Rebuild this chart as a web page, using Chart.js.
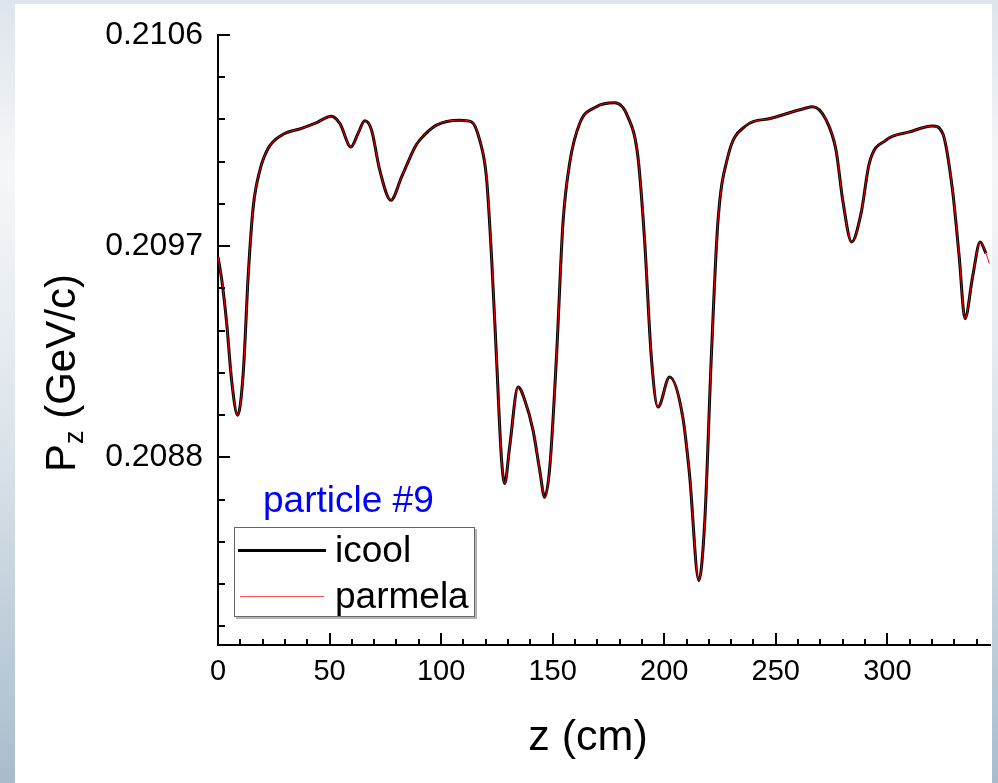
<!DOCTYPE html>
<html>
<head>
<meta charset="utf-8">
<script src="https://cdn.jsdelivr.net/npm/chart.js@4.4.0/dist/chart.umd.min.js"></script>
<style>
  html, body { margin: 0; padding: 0; }
  body {
    width: 998px; height: 783px; overflow: hidden; position: relative;
    background: linear-gradient(to bottom, #dde4eb 0%, #f5f7f9 22%, #dde5eb 55%, #a9bccc 100%);
  }
  #panel { position: absolute; left: 15px; top: 4px; width: 977px; height: 779px; background: #fff; }
  #wrap { position: absolute; left: 0; top: 0; width: 998px; height: 783px; }
</style>
</head>
<body>
<div id="panel"></div>
<div id="wrap"><canvas id="pz" width="998" height="783"></canvas></div>
<script>
// z (cm) and Pz (GeV/c)
const zIcool = [0, 1.7, 3.9, 6.1, 8.8, 11.3, 13.6, 15.8, 18.8, 22.5, 28.5, 37.5, 43.4, 50.9, 54.6, 59.6,
  62.8, 65.8, 68.8, 72.5, 77.5, 82.3, 88.3, 90.4, 97.9, 108.4, 113.6, 117.3, 120.3, 122.6, 124.8,
  127.0, 128.5, 130.7, 134.5, 137.5, 141.2, 144.2, 146.4, 148.7, 151.7, 154.6, 157.6, 162.1, 169.6,
  177.8, 183.7, 188.2, 191.2, 194.2, 197.2, 202.4, 208.3, 211.3, 215.5, 218.1, 221.1, 224.0, 228.5,
  236.0, 247.9, 262.8, 266.6, 272.6, 277.0, 280.0, 284.0, 288.2, 291.9, 299.4, 309.9, 320.3, 324.8,
  329.2, 332.2, 334.8, 338.2, 341.6, 344.2];
const pzIcool = [0.209654, 0.209555, 0.209371, 0.209128, 0.208979, 0.209158, 0.209585, 0.209868,
  0.210024, 0.210117, 0.210173, 0.210202, 0.210223, 0.210254, 0.210223, 0.210123, 0.210181, 0.210234,
  0.210195, 0.210024, 0.209896, 0.209995, 0.210123, 0.210152, 0.210216, 0.210237, 0.210230, 0.210152,
  0.209995, 0.209654, 0.209228, 0.208801, 0.208688, 0.208844, 0.209100, 0.209043, 0.208915, 0.208744,
  0.208630, 0.208758, 0.209228, 0.209797, 0.210053, 0.210223, 0.210294, 0.210311, 0.210251, 0.210081,
  0.209725, 0.209228, 0.209014, 0.209142, 0.208972, 0.208730, 0.208275, 0.208517, 0.209228, 0.209797,
  0.210081, 0.210209, 0.210245, 0.210287, 0.210294, 0.210237, 0.210109, 0.209896, 0.209718, 0.209839,
  0.210053, 0.210152, 0.210187, 0.210212, 0.210181, 0.209939, 0.209654, 0.209391, 0.209569, 0.209718,
  0.209669];
// parmela runs on top of icool and goes a little further
const zParmela = zIcool.concat([345.7]);
const pzParmela = pzIcool.concat([0.209626]);

const xTicks = [0, 10, 20, 30, 40, 50, 60, 70, 80, 90, 100, 110, 120, 130, 140, 150, 160, 170, 180,
  190, 200, 210, 220, 230, 240, 250, 260, 270, 280, 290, 300, 310, 320, 330, 340];
const xLabels = [0, 50, 100, 150, 200, 250, 300];
const yTicks = [0.20808, 0.20826, 0.20844, 0.20862, 0.2088, 0.20898, 0.20916, 0.20934, 0.20952,
  0.2097, 0.20988, 0.21006, 0.21024, 0.21042, 0.2106];
const yLabels = [0.2088, 0.2097, 0.2106];

const FONT = '"Liberation Sans", Arial, sans-serif';
const isLabel = (list, v) => list.some(l => Math.abs(l - v) < 1e-9);

const decor = {
  id: 'decor',
  afterDraw(chart) {
    const ctx = chart.ctx;
    const xs = chart.scales.x, ys = chart.scales.y;
    const area = chart.chartArea;
    ctx.save();
    // inward tick marks
    ctx.strokeStyle = '#000';
    ctx.lineWidth = 2;
    ctx.beginPath();
    xTicks.forEach(v => {
      const px = Math.round(xs.getPixelForValue(v));
      const len = isLabel(xLabels, v) ? 12 : 6;
      ctx.moveTo(px, area.bottom);
      ctx.lineTo(px, area.bottom - len);
    });
    yTicks.forEach(v => {
      const py = Math.round(ys.getPixelForValue(v));
      const len = isLabel(yLabels, v) ? 12 : 7;
      ctx.moveTo(area.left, py);
      ctx.lineTo(area.left + len, py);
    });
    ctx.stroke();

    // axis titles
    ctx.fillStyle = '#000';
    ctx.font = '43px ' + FONT;
    ctx.textAlign = 'center';
    ctx.textBaseline = 'alphabetic';
    ctx.fillText('z (cm)', 588, 750);

    ctx.translate(75, 472);
    ctx.rotate(-Math.PI / 2);
    ctx.textAlign = 'left';
    ctx.font = '42px ' + FONT;
    ctx.fillText('P', 0, 0);
    let w = ctx.measureText('P').width;
    ctx.font = '27px ' + FONT;
    ctx.fillText('z', w, 8);
    w += ctx.measureText('z').width;
    ctx.font = '42px ' + FONT;
    ctx.fillText(' (GeV/c)', w, 0);
    ctx.setTransform(1, 0, 0, 1, 0, 0);

    // legend
    ctx.fillStyle = '#0000ff';
    ctx.font = '37px ' + FONT;
    ctx.fillText('particle #9', 263, 512);
    ctx.fillStyle = '#b5b5b5';
    ctx.fillRect(236, 529, 241, 90);
    ctx.fillStyle = '#fff';
    ctx.fillRect(234, 527, 241, 90);
    ctx.strokeStyle = '#666';
    ctx.lineWidth = 1;
    ctx.strokeRect(234.5, 527.5, 240, 89);
    const ds = chart.data.datasets;
    ctx.strokeStyle = ds[1].borderColor;
    ctx.lineWidth = 3;
    ctx.beginPath(); ctx.moveTo(238, 550.5); ctx.lineTo(326, 550.5); ctx.stroke();
    ctx.strokeStyle = '#ff5050';
    ctx.lineWidth = 1;
    ctx.beginPath(); ctx.moveTo(240, 596.5); ctx.lineTo(324, 596.5); ctx.stroke();
    ctx.fillStyle = '#000';
    ctx.fillText(ds[1].label, 335, 562);
    ctx.fillText(ds[0].label, 335, 608);
    ctx.restore();
  }
};

new Chart(document.getElementById('pz'), {
  type: 'line',
  data: {
    datasets: [
      {
        label: 'parmela',
        data: zParmela.map((z, i) => ({ x: z, y: pzParmela[i] })),
        borderColor: '#ff0000',
        borderWidth: 1,
        pointRadius: 0,
        fill: false,
        cubicInterpolationMode: 'monotone'
      },
      {
        label: 'icool',
        data: zIcool.map((z, i) => ({ x: z, y: pzIcool[i] })),
        borderColor: '#000000',
        borderWidth: 3,
        pointRadius: 0,
        fill: false,
        cubicInterpolationMode: 'monotone'
      }
    ]
  },
  options: {
    responsive: false,
    animation: false,
    layout: { padding: { top: 35, right: 8, left: 0, bottom: 0 } },
    plugins: { legend: { display: false }, tooltip: { enabled: false } },
    scales: {
      x: {
        type: 'linear',
        min: 0,
        max: 346,
        afterBuildTicks: s => { s.ticks = xTicks.map(v => ({ value: v })); },
        afterFit: s => { s.height = 138; },
        grid: { display: false, drawTicks: false },
        border: { display: true, color: '#000', width: 2 },
        ticks: {
          autoSkip: false, maxRotation: 0, padding: 10, color: '#000',
          font: { family: FONT, size: 29 },
          callback: v => isLabel(xLabels, v) ? String(v) : ''
        }
      },
      y: {
        type: 'linear',
        min: 0.2080,
        max: 0.2106,
        afterBuildTicks: s => { s.ticks = yTicks.map(v => ({ value: v })); },
        afterFit: s => { s.width = 218; },
        grid: { display: false, drawTicks: false },
        border: { display: true, color: '#000', width: 2 },
        ticks: {
          autoSkip: false, padding: 15, color: '#000',
          font: { family: FONT, size: 32 },
          callback: v => isLabel(yLabels, v) ? v.toFixed(4) : ''
        }
      }
    }
  },
  plugins: [decor]
});
</script>
</body>
</html>
